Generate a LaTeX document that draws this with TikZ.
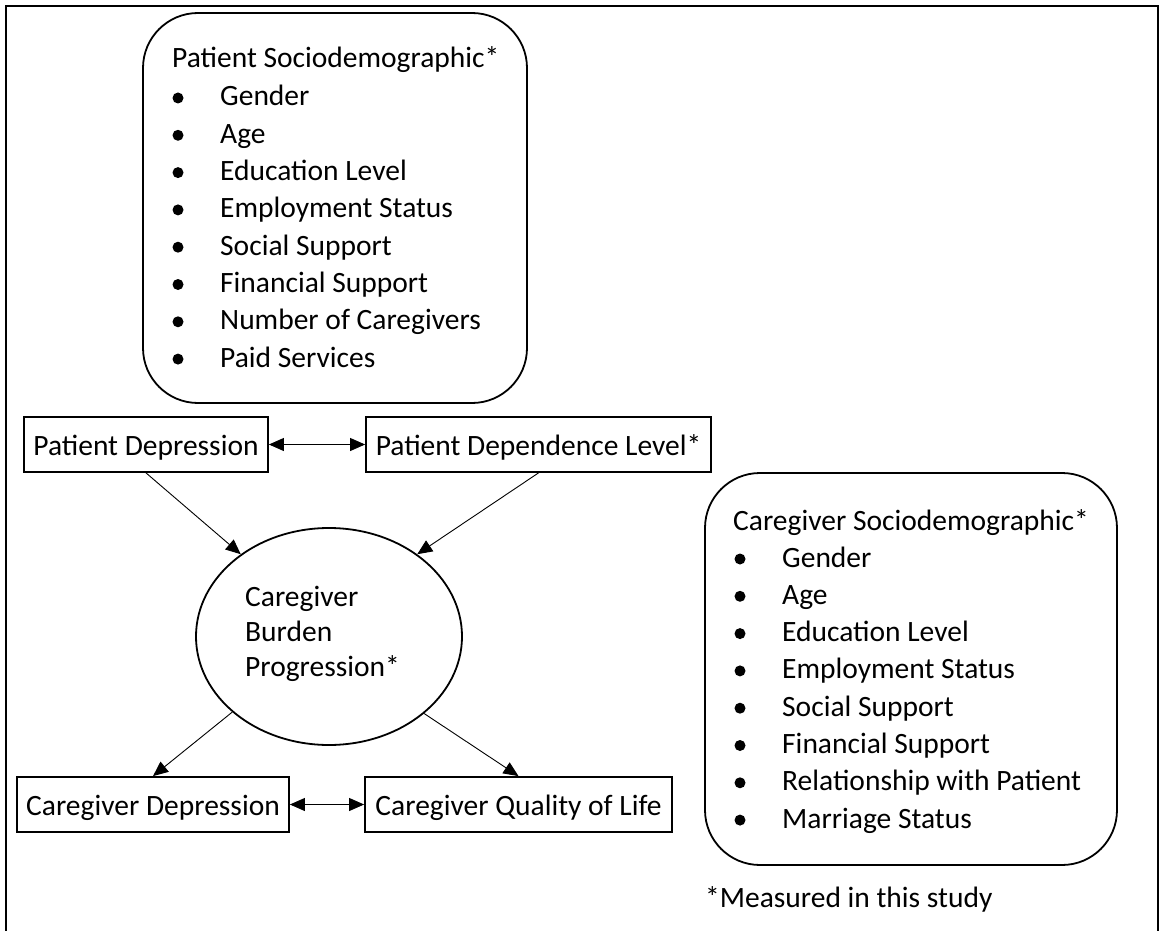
\documentclass[tikz,border=0pt]{standalone}
\usepackage{fontspec}
\setmainfont{Carlito}
\usetikzlibrary{shapes.geometric,arrows.meta}
\begin{document}
\begin{tikzpicture}[x=1pt,y=-1pt,
  every node/.style={font=\fontsize{29.5}{37.3}\selectfont, inner sep=0pt},
  box/.style={draw, line width=1.8pt, rectangle, minimum height=55pt, text height=27pt, text depth=6pt},
  rbox/.style={draw, line width=1.8pt, rectangle, rounded corners=55pt},
  txt/.style={anchor=base west},
  bul/.style={circle, fill, minimum size=11pt},
  arr/.style={line width=0.9pt, -{Triangle[length=15pt,width=13pt]}},
  darr/.style={line width=0.9pt, {Triangle[length=15pt,width=13pt]}-{Triangle[length=15pt,width=13pt]}}]
\useasboundingbox (0,0) rectangle (1163,931);
\draw[line width=1.3pt] (6,945) -- (6,6) -- (1158,6) -- (1158,945);

% Patient sociodemographic
\node[rbox, minimum width=384pt, minimum height=390pt] (psd) at (335,208) {};
\node[txt] (psdt) at (172,68) {Patient Sociodemographic*};
\foreach \t [count=\i from 0] in {Gender, Age, Education Level, Employment Status, Social Support, Financial Support, Number of Caregivers, Paid Services} {
  \node[bul] (psdb\i) at (178, 98+37.3*\i) {};
  \node[txt] (psdi\i) at (220, 106+37.3*\i) {\t};
}

% Patient boxes
\node[box, minimum width=244pt] (pd) at (146,444.5) {Patient Depression};
\node[box, minimum width=345pt] (pdl) at (538.5,444.5) {Patient Dependence Level*};

% Caregiver burden
\node[draw, ellipse, line width=1.8pt, minimum width=266pt, minimum height=217pt] (cb) at (329,636.5) {};
\node[txt] (cb1) at (245,606) {Caregiver};
\node[txt] (cb2) at (245,641.3) {Burden};
\node[txt] (cb3) at (245,676.6) {Progression*};

% Caregiver outcomes
\node[box, minimum width=272pt] (cd) at (153,804.5) {Caregiver Depression};
\node[box, minimum width=307pt] (cq) at (518.5,804.5) {Caregiver Quality of Life};

% Caregiver sociodemographic
\node[rbox, minimum width=412pt, minimum height=392pt] (csd) at (911,669) {};
\node[txt] (csdt) at (733,530) {Caregiver Sociodemographic*};
\foreach \t [count=\i from 0] in {Gender, Age, Education Level, Employment Status, Social Support, Financial Support, Relationship with Patient, Marriage Status} {
  \node[bul] (csdb\i) at (740, 559+37.3*\i) {};
  \node[txt] (csdi\i) at (782, 567+37.3*\i) {\t};
}
\node[txt] (note) at (705,907) {*Measured in this study};

% connectors
\draw[darr] (pd.east) -- (pdl.west);
\draw[darr] (cd.east) -- (cq.west);
\draw[arr] (pd.south) -- (cb.137);
\draw[arr] (pdl.south) -- (cb.43);
\draw[arr] (cb.218) -- (cd.north);
\draw[arr] (cb.-39) -- (cq.north);
\end{tikzpicture}
\end{document}
